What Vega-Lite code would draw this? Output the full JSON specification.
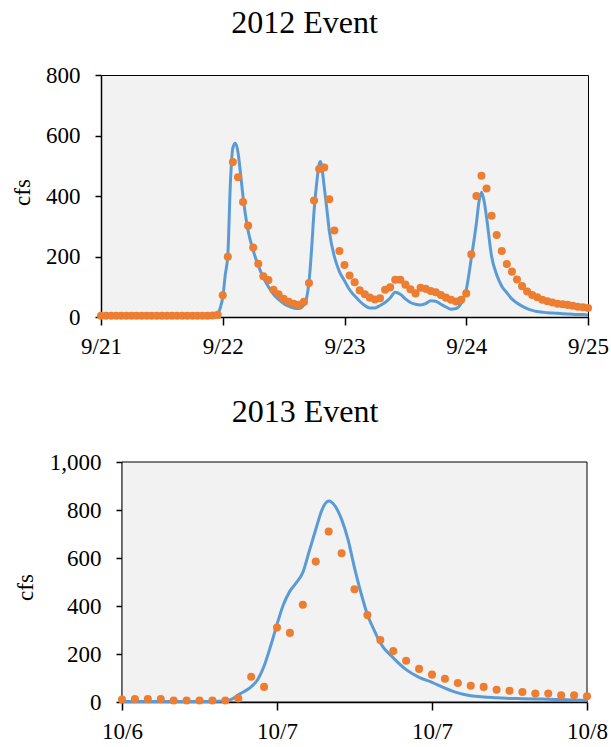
{
  "$schema": "https://vega.github.io/schema/vega-lite/v6.json",
  "background": "white",
  "padding": {"left": 10, "top": 6, "right": 5, "bottom": 5},
  "config": {
    "font": "Liberation Serif",
    "view": {"stroke": null},
    "axis": {
      "labelFont": "Liberation Serif",
      "labelFontSize": 23,
      "labelColor": "#000",
      "titleFont": "Liberation Serif",
      "titleFontSize": 23,
      "titleFontWeight": "normal",
      "titleColor": "#000",
      "domainColor": "#000",
      "domainWidth": 1.5,
      "tickColor": "#000",
      "tickWidth": 1.5,
      "grid": false,
      "labelFlush": false,
      "labelOverlap": false
    },
    "title": {
      "font": "Liberation Serif",
      "fontSize": 32,
      "fontWeight": "normal",
      "color": "#000",
      "frame": "group",
      "baseline": "alphabetic",
      "anchor": "middle"
    }
  },
  "datasets": {
    "obs2012": [
      {"t": "2012-09-21T00:00", "cfs": 4}, {"t": "2012-09-21T01:00", "cfs": 4}, {"t": "2012-09-21T02:00", "cfs": 4},
      {"t": "2012-09-21T03:00", "cfs": 4}, {"t": "2012-09-21T04:00", "cfs": 4}, {"t": "2012-09-21T05:00", "cfs": 4},
      {"t": "2012-09-21T06:00", "cfs": 4}, {"t": "2012-09-21T07:00", "cfs": 4}, {"t": "2012-09-21T08:00", "cfs": 4},
      {"t": "2012-09-21T09:00", "cfs": 4}, {"t": "2012-09-21T10:00", "cfs": 4}, {"t": "2012-09-21T11:00", "cfs": 4},
      {"t": "2012-09-21T12:00", "cfs": 4}, {"t": "2012-09-21T13:00", "cfs": 4}, {"t": "2012-09-21T14:00", "cfs": 4},
      {"t": "2012-09-21T15:00", "cfs": 4}, {"t": "2012-09-21T16:00", "cfs": 4}, {"t": "2012-09-21T17:00", "cfs": 4},
      {"t": "2012-09-21T18:00", "cfs": 4}, {"t": "2012-09-21T19:00", "cfs": 4}, {"t": "2012-09-21T20:00", "cfs": 4},
      {"t": "2012-09-21T21:00", "cfs": 4}, {"t": "2012-09-21T22:00", "cfs": 5}, {"t": "2012-09-21T23:00", "cfs": 7},
      {"t": "2012-09-22T00:00", "cfs": 72}, {"t": "2012-09-22T01:00", "cfs": 199}, {"t": "2012-09-22T02:00", "cfs": 512},
      {"t": "2012-09-22T03:00", "cfs": 462}, {"t": "2012-09-22T04:00", "cfs": 380}, {"t": "2012-09-22T05:00", "cfs": 302},
      {"t": "2012-09-22T06:00", "cfs": 230}, {"t": "2012-09-22T07:00", "cfs": 176}, {"t": "2012-09-22T08:00", "cfs": 135},
      {"t": "2012-09-22T09:00", "cfs": 122}, {"t": "2012-09-22T10:00", "cfs": 90}, {"t": "2012-09-22T11:00", "cfs": 75},
      {"t": "2012-09-22T12:00", "cfs": 60}, {"t": "2012-09-22T13:00", "cfs": 50}, {"t": "2012-09-22T14:00", "cfs": 44},
      {"t": "2012-09-22T15:00", "cfs": 40}, {"t": "2012-09-22T16:00", "cfs": 50}, {"t": "2012-09-22T17:00", "cfs": 112},
      {"t": "2012-09-22T18:00", "cfs": 385}, {"t": "2012-09-22T19:00", "cfs": 489}, {"t": "2012-09-22T20:00", "cfs": 494},
      {"t": "2012-09-22T21:00", "cfs": 389}, {"t": "2012-09-22T22:00", "cfs": 286}, {"t": "2012-09-22T23:00", "cfs": 218},
      {"t": "2012-09-23T00:00", "cfs": 172}, {"t": "2012-09-23T01:00", "cfs": 137}, {"t": "2012-09-23T02:00", "cfs": 115},
      {"t": "2012-09-23T03:00", "cfs": 88}, {"t": "2012-09-23T04:00", "cfs": 75}, {"t": "2012-09-23T05:00", "cfs": 64},
      {"t": "2012-09-23T06:00", "cfs": 58}, {"t": "2012-09-23T07:00", "cfs": 62}, {"t": "2012-09-23T08:00", "cfs": 90},
      {"t": "2012-09-23T09:00", "cfs": 98}, {"t": "2012-09-23T10:00", "cfs": 123}, {"t": "2012-09-23T11:00", "cfs": 123},
      {"t": "2012-09-23T12:00", "cfs": 107}, {"t": "2012-09-23T13:00", "cfs": 92}, {"t": "2012-09-23T14:00", "cfs": 78},
      {"t": "2012-09-23T15:00", "cfs": 97}, {"t": "2012-09-23T16:00", "cfs": 93}, {"t": "2012-09-23T17:00", "cfs": 86},
      {"t": "2012-09-23T18:00", "cfs": 82}, {"t": "2012-09-23T19:00", "cfs": 73}, {"t": "2012-09-23T20:00", "cfs": 64},
      {"t": "2012-09-23T21:00", "cfs": 57}, {"t": "2012-09-23T22:00", "cfs": 51}, {"t": "2012-09-23T23:00", "cfs": 57},
      {"t": "2012-09-24T00:00", "cfs": 78}, {"t": "2012-09-24T01:00", "cfs": 207}, {"t": "2012-09-24T02:00", "cfs": 400},
      {"t": "2012-09-24T03:00", "cfs": 467}, {"t": "2012-09-24T04:00", "cfs": 425}, {"t": "2012-09-24T05:00", "cfs": 335},
      {"t": "2012-09-24T06:00", "cfs": 271}, {"t": "2012-09-24T07:00", "cfs": 218}, {"t": "2012-09-24T08:00", "cfs": 175},
      {"t": "2012-09-24T09:00", "cfs": 150}, {"t": "2012-09-24T10:00", "cfs": 124}, {"t": "2012-09-24T11:00", "cfs": 102},
      {"t": "2012-09-24T12:00", "cfs": 84}, {"t": "2012-09-24T13:00", "cfs": 73}, {"t": "2012-09-24T14:00", "cfs": 65},
      {"t": "2012-09-24T15:00", "cfs": 57}, {"t": "2012-09-24T16:00", "cfs": 52}, {"t": "2012-09-24T17:00", "cfs": 48},
      {"t": "2012-09-24T18:00", "cfs": 44}, {"t": "2012-09-24T19:00", "cfs": 42}, {"t": "2012-09-24T20:00", "cfs": 40},
      {"t": "2012-09-24T21:00", "cfs": 37}, {"t": "2012-09-24T22:00", "cfs": 34}, {"t": "2012-09-24T23:00", "cfs": 32},
      {"t": "2012-09-25T00:00", "cfs": 30}
    ],
    "sim2012": [
      {"t": "2012-09-21T00:00", "cfs": 2}, {"t": "2012-09-21T06:00", "cfs": 2}, {"t": "2012-09-21T12:00", "cfs": 2},
      {"t": "2012-09-21T18:00", "cfs": 2}, {"t": "2012-09-21T21:00", "cfs": 2}, {"t": "2012-09-21T22:00", "cfs": 3},
      {"t": "2012-09-21T23:00", "cfs": 10}, {"t": "2012-09-21T23:30", "cfs": 30},
      {"t": "2012-09-22T00:00", "cfs": 65}, {"t": "2012-09-22T00:30", "cfs": 140}, {"t": "2012-09-22T01:00", "cfs": 205},
      {"t": "2012-09-22T01:30", "cfs": 440}, {"t": "2012-09-22T02:00", "cfs": 560}, {"t": "2012-09-22T02:30", "cfs": 574},
      {"t": "2012-09-22T03:00", "cfs": 545}, {"t": "2012-09-22T03:30", "cfs": 475}, {"t": "2012-09-22T04:00", "cfs": 398},
      {"t": "2012-09-22T04:30", "cfs": 335}, {"t": "2012-09-22T05:00", "cfs": 285}, {"t": "2012-09-22T06:00", "cfs": 220},
      {"t": "2012-09-22T07:00", "cfs": 170}, {"t": "2012-09-22T08:00", "cfs": 130}, {"t": "2012-09-22T09:00", "cfs": 100},
      {"t": "2012-09-22T10:00", "cfs": 75}, {"t": "2012-09-22T11:00", "cfs": 58}, {"t": "2012-09-22T12:00", "cfs": 45},
      {"t": "2012-09-22T13:00", "cfs": 36}, {"t": "2012-09-22T14:00", "cfs": 30}, {"t": "2012-09-22T15:00", "cfs": 28},
      {"t": "2012-09-22T16:00", "cfs": 40}, {"t": "2012-09-22T16:30", "cfs": 60}, {"t": "2012-09-22T17:00", "cfs": 115},
      {"t": "2012-09-22T17:30", "cfs": 220}, {"t": "2012-09-22T18:00", "cfs": 350}, {"t": "2012-09-22T18:30", "cfs": 440},
      {"t": "2012-09-22T19:00", "cfs": 505}, {"t": "2012-09-22T19:15", "cfs": 514}, {"t": "2012-09-22T19:30", "cfs": 500},
      {"t": "2012-09-22T20:00", "cfs": 430}, {"t": "2012-09-22T20:30", "cfs": 360}, {"t": "2012-09-22T21:00", "cfs": 285},
      {"t": "2012-09-22T22:00", "cfs": 200}, {"t": "2012-09-22T23:00", "cfs": 150},
      {"t": "2012-09-23T00:00", "cfs": 120}, {"t": "2012-09-23T01:00", "cfs": 90}, {"t": "2012-09-23T02:00", "cfs": 70},
      {"t": "2012-09-23T03:00", "cfs": 52}, {"t": "2012-09-23T04:00", "cfs": 38}, {"t": "2012-09-23T05:00", "cfs": 30},
      {"t": "2012-09-23T06:00", "cfs": 30}, {"t": "2012-09-23T07:00", "cfs": 38}, {"t": "2012-09-23T08:00", "cfs": 48},
      {"t": "2012-09-23T09:00", "cfs": 63}, {"t": "2012-09-23T10:00", "cfs": 82}, {"t": "2012-09-23T11:00", "cfs": 75},
      {"t": "2012-09-23T12:00", "cfs": 60}, {"t": "2012-09-23T13:00", "cfs": 48}, {"t": "2012-09-23T14:00", "cfs": 42},
      {"t": "2012-09-23T15:00", "cfs": 40}, {"t": "2012-09-23T16:00", "cfs": 44}, {"t": "2012-09-23T17:00", "cfs": 54},
      {"t": "2012-09-23T18:00", "cfs": 52}, {"t": "2012-09-23T19:00", "cfs": 42}, {"t": "2012-09-23T20:00", "cfs": 33},
      {"t": "2012-09-23T21:00", "cfs": 26}, {"t": "2012-09-23T22:00", "cfs": 28}, {"t": "2012-09-23T23:00", "cfs": 45},
      {"t": "2012-09-24T00:00", "cfs": 90}, {"t": "2012-09-24T01:00", "cfs": 195}, {"t": "2012-09-24T02:00", "cfs": 310},
      {"t": "2012-09-24T02:30", "cfs": 380}, {"t": "2012-09-24T03:00", "cfs": 412}, {"t": "2012-09-24T03:30", "cfs": 385},
      {"t": "2012-09-24T04:00", "cfs": 330}, {"t": "2012-09-24T05:00", "cfs": 200}, {"t": "2012-09-24T06:00", "cfs": 140},
      {"t": "2012-09-24T07:00", "cfs": 102}, {"t": "2012-09-24T08:00", "cfs": 80}, {"t": "2012-09-24T09:00", "cfs": 60},
      {"t": "2012-09-24T10:00", "cfs": 46}, {"t": "2012-09-24T11:00", "cfs": 36}, {"t": "2012-09-24T12:00", "cfs": 28},
      {"t": "2012-09-24T13:00", "cfs": 22}, {"t": "2012-09-24T14:00", "cfs": 18}, {"t": "2012-09-24T15:00", "cfs": 16},
      {"t": "2012-09-24T16:00", "cfs": 14}, {"t": "2012-09-24T17:00", "cfs": 13}, {"t": "2012-09-24T18:00", "cfs": 12},
      {"t": "2012-09-24T19:00", "cfs": 11}, {"t": "2012-09-24T20:00", "cfs": 10}, {"t": "2012-09-24T21:00", "cfs": 9},
      {"t": "2012-09-24T22:00", "cfs": 8}, {"t": "2012-09-24T23:00", "cfs": 8}, {"t": "2012-09-25T00:00", "cfs": 7}
    ],
    "frame2013": [
      {"start": "2013-10-06T12:00", "end": "2013-10-08T00:00", "lo": 0, "hi": 1000}
    ],
    "obs2013": [
      {"t": "2013-10-06T12:00", "cfs": 10}, {"t": "2013-10-06T13:00", "cfs": 12}, {"t": "2013-10-06T14:00", "cfs": 12},
      {"t": "2013-10-06T15:00", "cfs": 12}, {"t": "2013-10-06T16:00", "cfs": 6}, {"t": "2013-10-06T17:00", "cfs": 6},
      {"t": "2013-10-06T18:00", "cfs": 6}, {"t": "2013-10-06T19:00", "cfs": 6}, {"t": "2013-10-06T20:00", "cfs": 6},
      {"t": "2013-10-06T21:00", "cfs": 15}, {"t": "2013-10-06T22:00", "cfs": 105}, {"t": "2013-10-06T23:00", "cfs": 63},
      {"t": "2013-10-07T00:00", "cfs": 310}, {"t": "2013-10-07T01:00", "cfs": 288}, {"t": "2013-10-07T02:00", "cfs": 405},
      {"t": "2013-10-07T03:00", "cfs": 585}, {"t": "2013-10-07T04:00", "cfs": 710}, {"t": "2013-10-07T05:00", "cfs": 620},
      {"t": "2013-10-07T06:00", "cfs": 470}, {"t": "2013-10-07T07:00", "cfs": 362}, {"t": "2013-10-07T08:00", "cfs": 258},
      {"t": "2013-10-07T09:00", "cfs": 212}, {"t": "2013-10-07T10:00", "cfs": 172}, {"t": "2013-10-07T11:00", "cfs": 138},
      {"t": "2013-10-07T12:00", "cfs": 114}, {"t": "2013-10-07T13:00", "cfs": 97}, {"t": "2013-10-07T14:00", "cfs": 79},
      {"t": "2013-10-07T15:00", "cfs": 68}, {"t": "2013-10-07T16:00", "cfs": 63}, {"t": "2013-10-07T17:00", "cfs": 51},
      {"t": "2013-10-07T18:00", "cfs": 47}, {"t": "2013-10-07T19:00", "cfs": 42}, {"t": "2013-10-07T20:00", "cfs": 35},
      {"t": "2013-10-07T21:00", "cfs": 35}, {"t": "2013-10-07T22:00", "cfs": 28}, {"t": "2013-10-07T23:00", "cfs": 28},
      {"t": "2013-10-08T00:00", "cfs": 24}
    ],
    "sim2013": [
      {"t": "2013-10-06T12:00", "cfs": 2}, {"t": "2013-10-06T16:00", "cfs": 2}, {"t": "2013-10-06T19:00", "cfs": 2},
      {"t": "2013-10-06T20:00", "cfs": 4}, {"t": "2013-10-06T20:30", "cfs": 12}, {"t": "2013-10-06T21:00", "cfs": 30},
      {"t": "2013-10-06T21:30", "cfs": 45}, {"t": "2013-10-06T22:00", "cfs": 63}, {"t": "2013-10-06T22:30", "cfs": 93},
      {"t": "2013-10-06T23:00", "cfs": 150}, {"t": "2013-10-06T23:30", "cfs": 232}, {"t": "2013-10-07T00:00", "cfs": 323},
      {"t": "2013-10-07T00:30", "cfs": 406}, {"t": "2013-10-07T01:00", "cfs": 462}, {"t": "2013-10-07T01:30", "cfs": 497},
      {"t": "2013-10-07T02:00", "cfs": 540}, {"t": "2013-10-07T02:30", "cfs": 629}, {"t": "2013-10-07T03:00", "cfs": 719},
      {"t": "2013-10-07T03:30", "cfs": 803}, {"t": "2013-10-07T04:00", "cfs": 837}, {"t": "2013-10-07T04:30", "cfs": 816},
      {"t": "2013-10-07T05:00", "cfs": 761}, {"t": "2013-10-07T05:30", "cfs": 677}, {"t": "2013-10-07T06:00", "cfs": 559},
      {"t": "2013-10-07T06:30", "cfs": 455}, {"t": "2013-10-07T07:00", "cfs": 364}, {"t": "2013-10-07T07:30", "cfs": 302},
      {"t": "2013-10-07T08:00", "cfs": 246}, {"t": "2013-10-07T09:00", "cfs": 184}, {"t": "2013-10-07T10:00", "cfs": 135},
      {"t": "2013-10-07T11:00", "cfs": 103}, {"t": "2013-10-07T12:00", "cfs": 82}, {"t": "2013-10-07T13:00", "cfs": 58},
      {"t": "2013-10-07T14:00", "cfs": 38}, {"t": "2013-10-07T15:00", "cfs": 26}, {"t": "2013-10-07T16:00", "cfs": 21},
      {"t": "2013-10-07T17:00", "cfs": 18}, {"t": "2013-10-07T18:00", "cfs": 15}, {"t": "2013-10-07T19:00", "cfs": 14},
      {"t": "2013-10-07T20:00", "cfs": 13}, {"t": "2013-10-07T21:00", "cfs": 11}, {"t": "2013-10-07T22:00", "cfs": 10},
      {"t": "2013-10-07T23:00", "cfs": 8}, {"t": "2013-10-08T00:00", "cfs": 7}
    ]
  },
  "vconcat": [
    {
      "width": 487,
      "height": 242,
      "title": {"text": "2012 Event", "offset": 24, "dx": -40},
      "view": {"fill": "#f2f2f2", "stroke": "#000", "strokeWidth": 1},
      "encoding": {
        "x": {
          "field": "t",
          "type": "temporal",
          "scale": {
            "domain": [
              {"year": 2012, "month": 9, "date": 21},
              {"year": 2012, "month": 9, "date": 25}
            ],
            "nice": false
          },
          "axis": {
            "title": null,
            "format": "%-m/%-d",
            "values": [
              {"year": 2012, "month": 9, "date": 21},
              {"year": 2012, "month": 9, "date": 22},
              {"year": 2012, "month": 9, "date": 23},
              {"year": 2012, "month": 9, "date": 24},
              {"year": 2012, "month": 9, "date": 25}
            ],
            "tickSize": 8,
            "labelPadding": 10
          }
        },
        "y": {
          "field": "cfs",
          "type": "quantitative",
          "scale": {"domain": [0, 800], "nice": false},
          "axis": {
            "title": "cfs",
            "values": [0, 200, 400, 600, 800],
            "tickSize": 6,
            "labelPadding": 15,
            "titleX": -79,
            "titleY": 117,
            "titleAngle": -90,
            "titleAlign": "center",
            "titleBaseline": "middle"
          }
        }
      },
      "layer": [
        {
          "data": {"name": "sim2012"},
          "mark": {"type": "line", "color": "#5B9BD5", "strokeWidth": 3, "interpolate": "monotone"}
        },
        {
          "data": {"name": "obs2012"},
          "mark": {"type": "circle", "color": "#ED7D31", "size": 65, "opacity": 1}
        }
      ]
    },
    {
      "width": 486,
      "height": 240,
      "title": {"text": "2013 Event", "offset": 22, "dx": -39},
      "view": {"fill": null, "stroke": null},
      "layer": [
        {
          "data": {"name": "frame2013"},
          "mark": {"type": "rect", "fill": "#f2f2f2", "stroke": "#000", "strokeWidth": 1},
          "encoding": {
            "x": {"field": "start", "type": "temporal"},
            "x2": {"field": "end"},
            "y": {"field": "lo", "type": "quantitative"},
            "y2": {"field": "hi"}
          }
        },
        {
          "data": {"name": "sim2013"},
          "mark": {"type": "line", "color": "#5B9BD5", "strokeWidth": 3, "interpolate": "monotone"},
          "encoding": {
            "x": {"field": "t", "type": "temporal"},
            "y": {"field": "cfs", "type": "quantitative"}
          }
        },
        {
          "data": {"name": "obs2013"},
          "mark": {"type": "circle", "color": "#ED7D31", "size": 65, "opacity": 1},
          "encoding": {
            "x": {"field": "t", "type": "temporal"},
            "y": {"field": "cfs", "type": "quantitative"}
          }
        }
      ],
      "resolve": {"scale": {"x": "shared", "y": "shared"}},
      "encoding": {
        "x": {
          "type": "temporal",
          "scale": {
            "domain": [
              {"year": 2013, "month": 10, "date": 6, "hours": 12},
              {"year": 2013, "month": 10, "date": 8}
            ],
            "range": [21, 486],
            "nice": false
          },
          "axis": {
            "title": null,
            "format": "%-m/%-d",
            "values": [
              {"year": 2013, "month": 10, "date": 6, "hours": 12},
              {"year": 2013, "month": 10, "date": 7},
              {"year": 2013, "month": 10, "date": 7, "hours": 12},
              {"year": 2013, "month": 10, "date": 8}
            ],
            "tickSize": 8,
            "labelPadding": 10
          }
        },
        "y": {
          "type": "quantitative",
          "scale": {"domain": [0, 1000], "nice": false},
          "axis": {
            "title": "cfs",
            "values": [0, 200, 400, 600, 800, 1000],
            "format": ",d",
            "offset": -21,
            "tickSize": 6,
            "labelPadding": 15,
            "titleX": -97,
            "titleY": 125,
            "titleAngle": -90,
            "titleAlign": "center",
            "titleBaseline": "middle"
          }
        }
      }
    }
  ],
  "spacing": 37
}
